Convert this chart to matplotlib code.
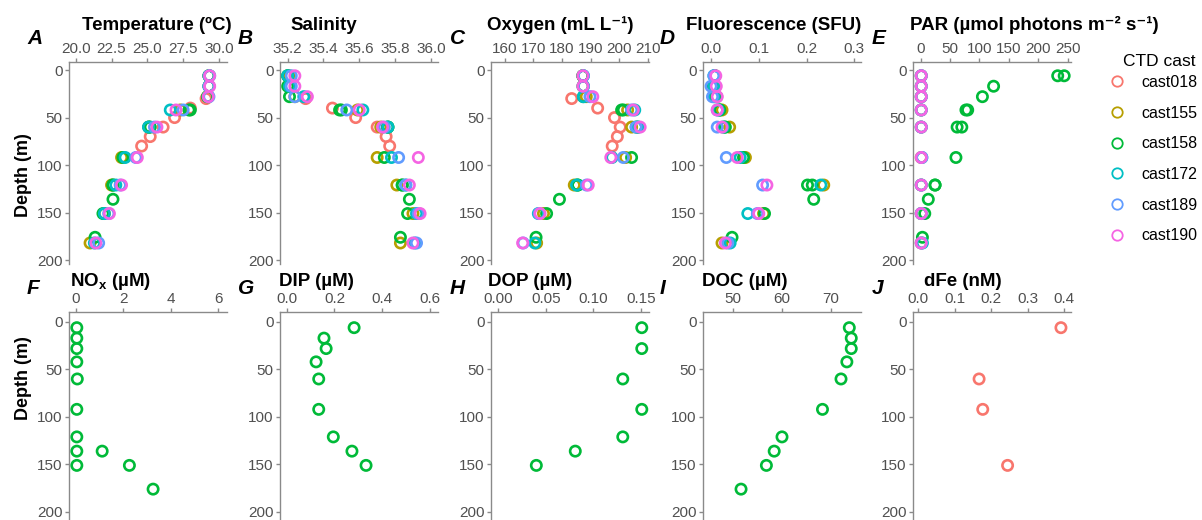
import numpy as np
import matplotlib
matplotlib.use("Agg")
import matplotlib.pyplot as plt
from matplotlib.lines import Line2D

plt.rcParams['font.family'] = ['Liberation Sans', 'DejaVu Sans']
plt.rcParams['mathtext.fontset'] = 'custom'
plt.rcParams['mathtext.rm'] = 'Liberation Sans:bold'
plt.rcParams['mathtext.bf'] = 'Liberation Sans:bold'
plt.rcParams['mathtext.default'] = 'bf'

# ---- CTD profile data ----
casts = ['cast018', 'cast155', 'cast158', 'cast172', 'cast189', 'cast190']
cast_colors = ['#F8766D', '#B79F00', '#00BA38', '#00BFC4', '#619CFF', '#F564E3']

depth_018 = [30, 40, 50, 60, 70, 80]
temp_018 = [29.1, 28.0, 26.9, 26.1, 25.2, 24.6]
sal_018 = [35.30, 35.45, 35.58, 35.70, 35.75, 35.77]
oxy_018 = [183.4, 192.5, 198.4, 200.4, 199.4, 197.6]
fluo_018 = [np.nan] * 6
par_018 = [np.nan] * 6

depth_155 = [6, 17, 28, 42, 60, 92, 121, 151, 182]
temp_155 = [29.3, 29.3, 29.2, 27.3, 25.1, 23.2, 22.5, 22.0, 21.0]
sal_155 = [35.21, 35.21, 35.24, 35.59, 35.72, 35.70, 35.81, 35.90, 35.83]
oxy_155 = [187.3, 187.5, 188.5, 203.0, 204.4, 202.3, 184.3, 173.5, 171.1]
fluo_155 = [0.008, 0.008, 0.012, 0.023, 0.039, 0.072, 0.236, 0.110, 0.023]
par_155 = [1, 1, 1, 1, 1, 1, 1, 1, 1]

depth_158 = [6, 6, 17, 28, 42, 42, 60, 60, 92, 121, 121, 136, 151, 176]
temp_158 = [29.3, 29.3, 29.3, 29.2, 28.0, 27.9, 25.1, 25.2, 23.3, 22.6, 22.6, 22.6, 21.9, 21.35]
sal_158 = [35.20, 35.20, 35.20, 35.21, 35.49, 35.50, 35.76, 35.76, 35.74, 35.84, 35.84, 35.88, 35.87, 35.83]
oxy_158 = [187.3, 187.3, 187.3, 187.5, 200.9, 201.5, 206.0, 206.5, 204.4, 185.5, 185.5, 179.1, 174.6, 170.9]
fluo_158 = [0.008, 0.008, 0.005, 0.008, 0.018, 0.018, 0.028, 0.030, 0.068, 0.202, 0.212, 0.215, 0.112, 0.044]
par_158 = [233, 244, 124, 105, 77, 80, 62, 70, 60, 24.5, 24.5, 13, 7, 3]

depth_172 = [6, 17, 28, 42, 60, 92, 121, 151, 182]
temp_172 = [29.35, 29.3, 29.25, 26.6, 25.08, 23.45, 22.8, 22.0, 21.3]
sal_172 = [35.20, 35.21, 35.29, 35.62, 35.76, 35.78, 35.86, 35.92, 35.91]
oxy_172 = [187.5, 187.5, 187.5, 205.5, 206.8, 197.5, 185.1, 171.7, 170.5]
fluo_172 = [0.006, 0.006, 0.006, 0.015, 0.025, 0.061, 0.230, 0.077, 0.040]
par_172 = [1, 1, 1, 1, 1, 2, 1, 1, 3]

depth_189 = [6, 17, 28, 42, 60, 92, 121, 151, 182]
temp_189 = [29.3, 29.3, 29.3, 27.5, 25.5, 24.2, 23.1, 22.3, 21.6]
sal_189 = [35.22, 35.22, 35.24, 35.53, 35.74, 35.82, 35.86, 35.93, 35.92]
oxy_189 = [187.5, 187.5, 189.8, 204.4, 206.0, 201.5, 188.6, 172.0, 166.4]
fluo_189 = [0.006, 0.0, 0.003, 0.013, 0.013, 0.032, 0.108, 0.097, 0.035]
par_189 = [1, 1, 1, 1, 1, 2, 1, 1, 1]

depth_190 = [6, 17, 28, 42, 60, 92, 121, 151, 182]
temp_190 = [29.35, 29.35, 29.25, 27.0, 25.67, 24.3, 23.2, 22.35, 21.4]
sal_190 = [35.24, 35.24, 35.31, 35.60, 35.73, 35.93, 35.88, 35.94, 35.90]
oxy_190 = [187.3, 187.3, 190.8, 205.0, 207.4, 197.1, 189.2, 172.3, 166.2]
fluo_190 = [0.010, 0.011, 0.013, 0.013, 0.023, 0.055, 0.117, 0.100, 0.030]
par_190 = [1, 1, 1, 1, 1, 1, 1, 1, 1]

# ---- bottle data (cast158 nutrients, cast018 iron) ----
nox_depth = [6, 17, 28, 42, 60, 92, 121, 136, 136, 151, 151, 176]
nox = [0.03, 0.03, 0.03, 0.03, 0.05, 0.03, 0.03, 0.03, 1.1, 0.03, 2.25, 3.25]
dip_depth = [6, 17, 28, 42, 60, 92, 121, 136, 151]
dip = [0.282, 0.156, 0.165, 0.123, 0.134, 0.134, 0.195, 0.273, 0.332]
dop_depth = [6, 28, 60, 92, 121, 136, 151]
dop = [0.151, 0.151, 0.131, 0.151, 0.131, 0.081, 0.040]
doc_depth = [6, 17, 28, 42, 60, 92, 121, 136, 151, 176]
doc = [73.8, 74.2, 74.2, 73.3, 72.1, 68.3, 60.0, 58.4, 56.8, 51.6]
dfe_depth = [6, 60, 92, 151]
dfe = [0.391, 0.167, 0.177, 0.245]

ctd = {
    'cast018': (depth_018, temp_018, sal_018, oxy_018, fluo_018, par_018),
    'cast155': (depth_155, temp_155, sal_155, oxy_155, fluo_155, par_155),
    'cast158': (depth_158, temp_158, sal_158, oxy_158, fluo_158, par_158),
    'cast172': (depth_172, temp_172, sal_172, oxy_172, fluo_172, par_172),
    'cast189': (depth_189, temp_189, sal_189, oxy_189, fluo_189, par_189),
    'cast190': (depth_190, temp_190, sal_190, oxy_190, fluo_190, par_190),
}

W, H = 1202, 520
fig = plt.figure(figsize=(W / 100, H / 100), dpi=100)

GRAY = '#8a8a8a'
TXT = '#505050'
col_left = [69, 280, 491, 703, 913]
ax_w = 158


def make_axes(left, top, bottom, xlim, ylim, xticks, fmt):
    ax = fig.add_axes([left / W, 1 - bottom / H, ax_w / W, (bottom - top) / H])
    ax.set_xlim(*xlim)
    ax.set_ylim(*ylim)
    ax.set_xticks(xticks)
    ax.set_xticklabels([fmt.format(t) for t in xticks])
    ax.set_yticks([0, 50, 100, 150, 200])
    ax.xaxis.tick_top()
    for s in ['right', 'bottom']:
        ax.spines[s].set_visible(False)
    for s in ['left', 'top']:
        ax.spines[s].set_color(GRAY)
        ax.spines[s].set_linewidth(1.0)
    ax.tick_params(axis='both', colors=GRAY, labelcolor=TXT, labelsize=11,
                   length=3, width=1.0)
    ax.tick_params(axis='x', pad=1.5)
    ax.tick_params(axis='y', pad=1.5)
    ax.patch.set_alpha(0)
    return ax


def label_panel(letter, title, x_letter, x_title, y_letter, y_title):
    fig.text(x_letter / W, 1 - y_letter / H, letter, fontsize=15, fontweight='bold',
             fontstyle='italic', va='center', ha='left')
    fig.text(x_title / W, 1 - y_title / H, title, fontsize=13.5, fontweight='bold',
             va='center', ha='left')


top_row = [
    ('A', 'Temperature (ºC)', 1, (19.53, 30.56), [20.0, 22.5, 25.0, 27.5, 30.0], '{:.1f}'),
    ('B', 'Salinity', 2, (35.157, 36.04), [35.2, 35.4, 35.6, 35.8, 36.0], '{:.1f}'),
    ('C', 'Oxygen (mL L⁻¹)', 3, (155.1, 210.5), [160, 170, 180, 190, 200, 210], '{:d}'),
    ('D', 'Fluorescence (SFU)', 4, (-0.0168, 0.314), [0.0, 0.1, 0.2, 0.3], '{:.1f}'),
    ('E', 'PAR (µmol photons m⁻² s⁻¹)', 5, (-13, 255.6), [0, 50, 100, 150, 200, 250], '{:d}'),
]
letter_x = [27, 238, 450, 660, 872]
title_x_top = [82, 290, 487, 686, 910]

for i, (letter, title, col, xlim, xticks, fmt) in enumerate(top_row):
    ax = make_axes(col_left[i], 62, 263.9, xlim, (204, -8.5), xticks, fmt)
    for name, c in zip(casts, cast_colors):
        d = ctd[name]
        ax.scatter(d[col], d[0], s=55, facecolors='none', edgecolors=c,
                   linewidths=1.9, clip_on=False, zorder=3)
    label_panel(letter, title, letter_x[i], title_x_top[i], 38, 25)

bottom_row = [
    ('F', r'NO$_x$ (µM)', nox, nox_depth, '#00BA38', (-0.3, 6.37), [0, 2, 4, 6], '{:d}'),
    ('G', 'DIP (µM)', dip, dip_depth, '#00BA38', (-0.028, 0.633), [0.0, 0.2, 0.4, 0.6], '{:.1f}'),
    ('H', 'DOP (µM)', dop, dop_depth, '#00BA38', (-0.0077, 0.1586), [0.00, 0.05, 0.10, 0.15], '{:.2f}'),
    ('I', 'DOC (µM)', doc, doc_depth, '#00BA38', (43.8, 76.2), [50, 60, 70], '{:d}'),
    ('J', 'dFe (nM)', dfe, dfe_depth, '#F8766D', (-0.0138, 0.4185), [0.0, 0.1, 0.2, 0.3, 0.4], '{:.1f}'),
]
title_x_bot = [70, 279, 488, 702, 924]

for i, (letter, title, vals, deps, c, xlim, xticks, fmt) in enumerate(bottom_row):
    ax = make_axes(col_left[i], 312, 520, xlim, (208.5, -10.5), xticks, fmt)
    ax.scatter(vals, deps, s=55, facecolors='none', edgecolors=c,
               linewidths=1.9, clip_on=False, zorder=3)
    label_panel(letter, title, letter_x[i], title_x_bot[i], 289, 281)

for yc in [175, 378]:
    fig.text(23 / W, 1 - yc / H, 'Depth (m)', rotation=90, fontsize=13,
             fontweight='bold', va='center', ha='center')

# legend
fig.text(1123 / W, 1 - 62 / H, 'CTD cast', fontsize=12.5, va='center', ha='left')
handles = [Line2D([], [], marker='o', linestyle='none', markersize=7.5,
                  markerfacecolor='none', markeredgecolor=c, markeredgewidth=1.3)
           for c in cast_colors]
fig.legend(handles, casts, loc='upper left', bbox_to_anchor=(1109 / W, 1 - 75 / H),
           frameon=False, fontsize=11.5, handlelength=1.0, handletextpad=1.05,
           labelspacing=0.98, borderpad=0, borderaxespad=0)

fig.savefig('out.png', dpi=100)
